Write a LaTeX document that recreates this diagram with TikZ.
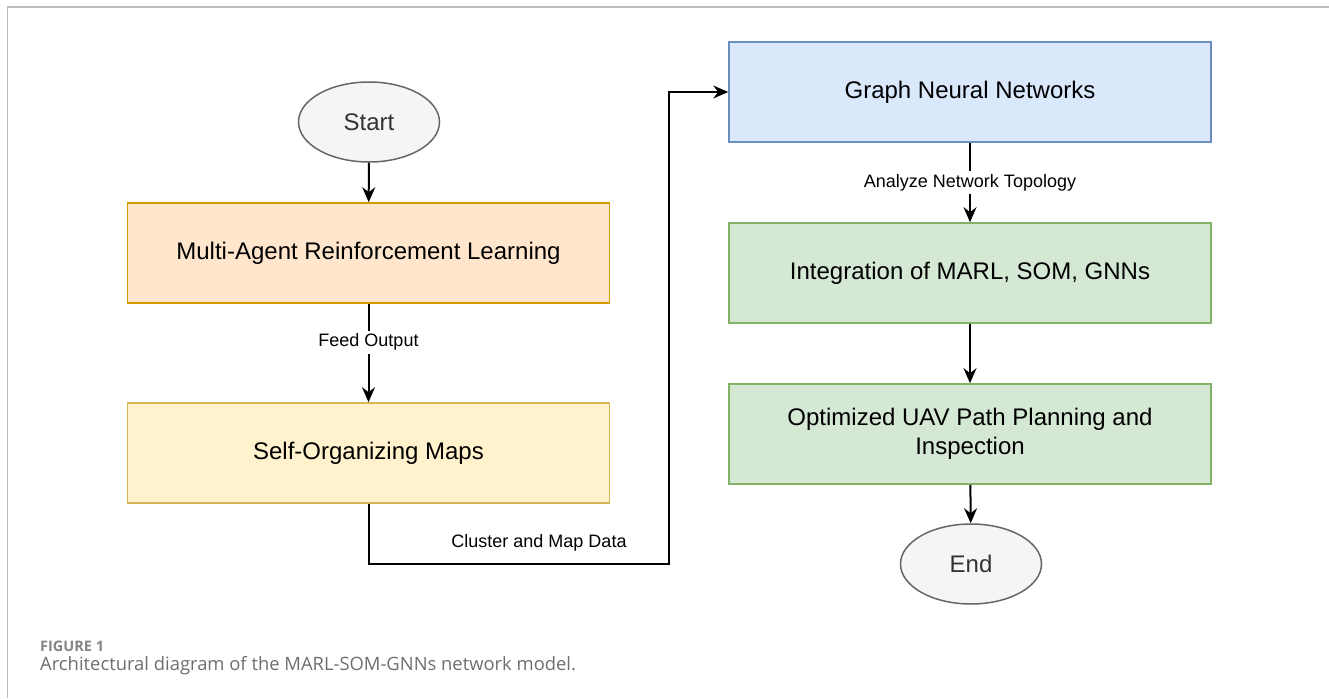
\documentclass[tikz,border=0pt]{standalone}
\usepackage{fontspec}
\setmainfont{Liberation Sans}
\newfontfamily\capfont{Open Sans}
\usetikzlibrary{arrows.meta,shapes.geometric}

\definecolor{orgfill}{HTML}{FFE6CC}\definecolor{orgline}{HTML}{D79B00}
\definecolor{yelfill}{HTML}{FFF2CC}\definecolor{yelline}{HTML}{D6B656}
\definecolor{blufill}{HTML}{DAE8FC}\definecolor{bluline}{HTML}{6C8EBF}
\definecolor{grnfill}{HTML}{D5E8D4}\definecolor{grnline}{HTML}{82B366}
\definecolor{termfill}{HTML}{F5F5F5}\definecolor{termline}{HTML}{666666}
\definecolor{termtext}{HTML}{333333}
\definecolor{framegray}{HTML}{BDBDBD}
\definecolor{capgray}{HTML}{6E6E6E}

\begin{document}
\begin{tikzpicture}[x=1pt,y=-1pt,
  box/.style={draw, line width=1.6pt, minimum width=482pt, minimum height=100pt,
    inner sep=0pt, align=center, text=black, font=\fontsize{24}{29}\selectfont},
  term/.style={ellipse, draw=termline, fill=termfill, line width=1.5pt,
    minimum width=141pt, minimum height=80pt, inner sep=0pt, text=termtext,
    font=\fontsize{24}{29}\selectfont},
  flow/.style={line width=2pt, -{Stealth[length=15pt,width=13pt,inset=5pt]}},
  lbl/.style={fill=white, inner sep=3pt, text=black, font=\fontsize{18}{22}\selectfont}
]
\useasboundingbox (0,0) rectangle (1329,698);

% outer frame (top and left rules)
\draw[framegray, line width=1.5pt] (7.3,698) -- (7.3,7) -- (1329,7);

% left column
\node[term] (start) at (369,122) {Start};
\node[box, fill=orgfill, draw=orgline] (marl) at (368.5,253) {\raisebox{-1pt}{Multi-Agent Reinforcement Learning}};
\node[box, fill=yelfill, draw=yelline] (som) at (368.5,453) {\raisebox{-1pt}{Self-Organizing Maps}};

% right column
\node[box, fill=blufill, draw=bluline] (gnn) at (970,92) {\raisebox{-1pt}{Graph Neural Networks}};
\node[box, fill=grnfill, draw=grnline] (integ) at (970,273) {\raisebox{-1pt}{Integration of MARL, SOM, GNNs}};
\node[box, fill=grnfill, draw=grnline] (opt) at (970,434)
  {Optimized UAV Path Planning and\\Inspection};
\node[term] (end) at (971,564) {End};

% connectors
\draw[flow] (start) -- (marl);
\draw[flow] (marl) -- node[lbl, pos=0.39] {Feed Output} (som);
\coordinate (turn) at (669,564);
\draw[flow] (som.south) -- (som.south |- turn) -- (turn) |- (gnn.west);
\node[lbl, fill=none] (cmlbl) at (539,543) {Cluster and Map Data};
\draw[flow] (gnn) -- node[lbl] {Analyze Network Topology} (integ);
\draw[flow] (integ) -- (opt);
\draw[flow] (opt) -- (end);

% caption
\node[anchor=base west, inner sep=0pt, text=capgray!85, font=\capfont\bfseries\fontsize{14.5}{17}\selectfont] (figno) at (40,651) {FIGURE 1};
\node[anchor=base west, inner sep=0pt, text=capgray, font=\capfont\fontsize{18.4}{22}\selectfont] (figcap) at (40,670) {Architectural diagram of the MARL-SOM-GNNs network model.};
\end{tikzpicture}
\end{document}
